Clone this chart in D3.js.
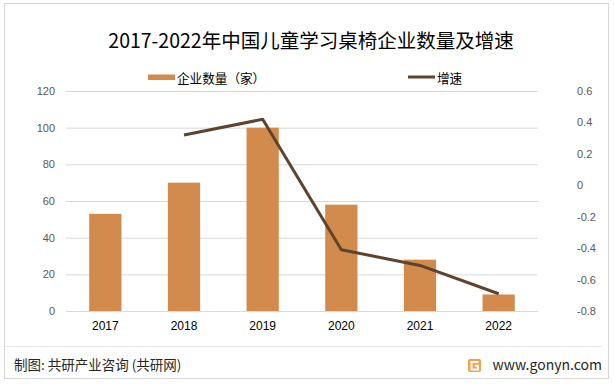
<!DOCTYPE html>
<html><head><meta charset="utf-8">
<script src="https://cdn.jsdelivr.net/npm/d3@7"></script>
<style>body{margin:0;background:#fff;}svg{display:block;font-family:"Noto Sans CJK SC","Noto Sans",sans-serif;}</style>
</head><body>
<script>
const years = ["2017","2018","2019","2020","2021","2022"];
const companies = [53, 70, 100, 58, 28, 9];
const growth = [null, 0.32, 0.42, -0.41, -0.51, -0.69];
const leftTicks = [0,20,40,60,80,100,120];
const rightTicks = [0.6,0.4,0.2,0,-0.2,-0.4,-0.6,-0.8];

const W=614,H=384;
const svg=d3.select("body").append("svg").attr("width",W).attr("height",H);
svg.append("rect").attr("x",4.5).attr("y",3.5).attr("width",604).attr("height",375).attr("fill","#fff").attr("stroke","#d9d9d9");

const x=d3.scaleBand().domain(years).range([66,538]).paddingInner(0.59).paddingOuter(0.295);
const yL=d3.scaleLinear().domain([0,120]).range([311,91]);
const yR=d3.scaleLinear().domain([-0.8,0.6]).range([311,91]);

// gridlines
svg.append("g").selectAll("line").data(leftTicks).join("line")
 .attr("x1",66).attr("x2",538).attr("y1",d=>yL(d)+0.5).attr("y2",d=>yL(d)+0.5)
 .attr("stroke","#d9d9d9").attr("stroke-width",1);

const axL=d3.axisLeft(yL).tickValues(leftTicks).tickSize(0).tickPadding(0);
svg.append("g").attr("transform","translate(55,0)").call(axL)
 .call(g=>g.select(".domain").remove())
 .call(g=>g.selectAll("text").attr("fill","#595959").attr("font-size",11));

const axR=d3.axisRight(yR).tickValues(rightTicks).tickSize(0).tickPadding(0).tickFormat(d=>String(+d.toFixed(1)));
svg.append("g").attr("transform","translate(577,0)").call(axR)
 .call(g=>g.select(".domain").remove())
 .call(g=>g.selectAll("text").attr("fill","#595959").attr("font-size",11));

// bars
svg.append("g").selectAll("rect").data(companies).join("rect")
 .attr("x",(d,i)=>x(years[i])).attr("width",x.bandwidth())
 .attr("y",d=>yL(d)).attr("height",d=>yL(0)-yL(d)).attr("fill","#D38B4D");

const axB=d3.axisBottom(x).tickSize(0).tickPadding(0);
svg.append("g").attr("transform","translate(0,321)").call(axB)
 .call(g=>g.select(".domain").remove())
 .call(g=>g.selectAll("text").attr("fill","#000").attr("font-size",12));

// line
const pts=growth.map((v,i)=>({v,i})).filter(d=>d.v!==null);
svg.append("path").datum(pts)
 .attr("d",d3.line().x(d=>x(years[d.i])+x.bandwidth()/2).y(d=>yR(d.v)))
 .attr("fill","none").attr("stroke","#5E432D").attr("stroke-width",3).attr("stroke-linejoin","round");

// title
svg.append("text").attr("x",311).attr("y",48).attr("text-anchor","middle").attr("font-size",19.5).attr("fill","#000")
 .text("2017-2022年中国儿童学习桌椅企业数量及增速");

// legend
svg.append("rect").attr("x",148).attr("y",74.5).attr("width",27).attr("height",5.5).attr("fill","#D38B4D");
svg.append("text").attr("x",177).attr("y",82.5).attr("font-size",12.6).attr("fill","#000").text("企业数量（家）");
svg.append("line").attr("x1",408).attr("x2",435).attr("y1",77).attr("y2",77).attr("stroke","#5E432D").attr("stroke-width",3);
svg.append("text").attr("x",437).attr("y",82.5).attr("font-size",12.6).attr("fill","#000").text("增速");

// footer
svg.append("line").attr("x1",5).attr("x2",602).attr("y1",346.5).attr("y2",346.5).attr("stroke","#e6e6e6");
svg.append("text").attr("x",14).attr("y",370).attr("font-size",13.5).attr("fill","#262626").text("制图: 共研产业咨询 (共研网)");
const lg=svg.append("g").attr("transform","translate(468,359)");
lg.append("rect").attr("width",13).attr("height",13).attr("rx",2).attr("fill","#F4A04C");
lg.append("path").attr("d","M10.5 3H3.5V10.5H10V6.8H6.8").attr("fill","none").attr("stroke","#fff").attr("stroke-width",2);
svg.append("text").attr("x",602).attr("y",370).attr("text-anchor","end").attr("font-size",14).attr("fill","#262626").text("www.gonyn.com");
</script>
</body></html>
